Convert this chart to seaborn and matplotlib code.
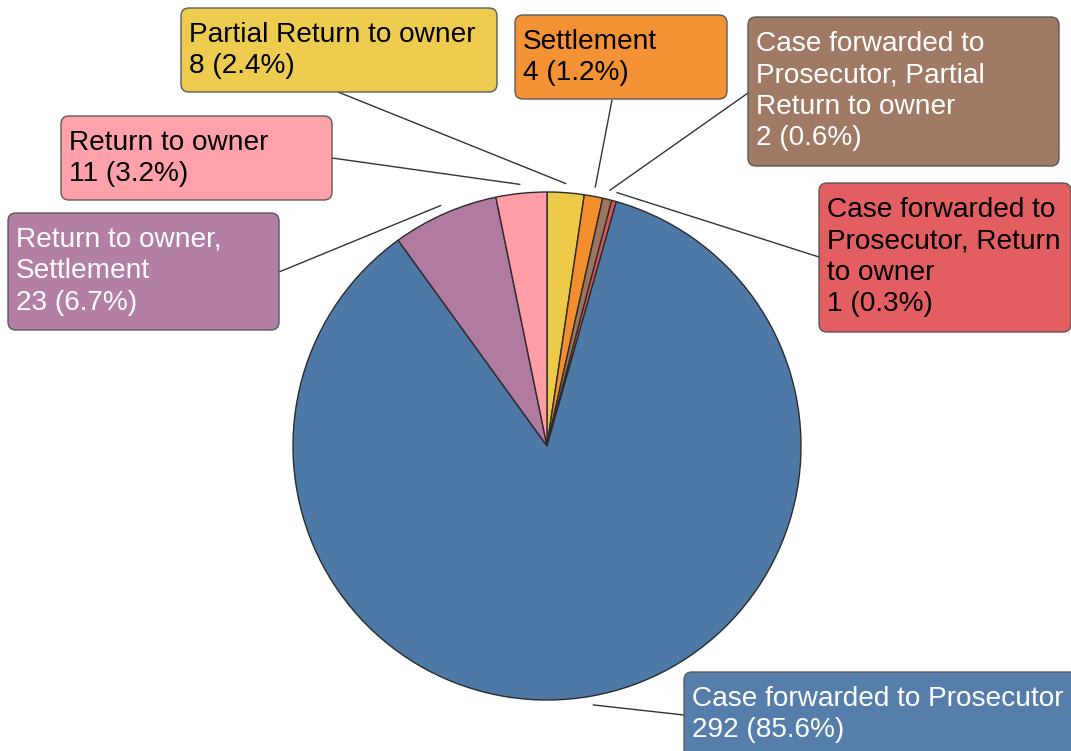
import matplotlib
matplotlib.use("Agg")
import matplotlib.pyplot as plt
import seaborn as sns
import numpy as np
from matplotlib.patches import FancyBboxPatch

# ---- data (clockwise from 12 o'clock) ----
categories = [
    "Partial Return to owner",
    "Settlement",
    "Case forwarded to\nProsecutor, Partial\nReturn to owner",
    "Case forwarded to\nProsecutor, Return\nto owner",
    "Case forwarded to Prosecutor",
    "Return to owner,\nSettlement",
    "Return to owner",
]
counts = [8, 4, 2, 1, 292, 23, 11]
percents = ["2.4", "1.2", "0.6", "0.3", "85.6", "6.7", "3.2"]
colors = ["#EDC948", "#F28E2B", "#9C755F", "#E15759", "#4E79A7", "#B07AA1", "#FF9DA7"]
text_colors = ["black", "black", "white", "black", "white", "white", "black"]

# ---- layout (pixels, y measured from top) ----
W, H = 1071, 751
CX, CY, R = 547, 446, 254
# box: left, top, width, height (same order as categories)
boxes = [
    (181, 8, 316, 84),
    (515, 15, 212, 84),
    (748, 17, 311, 149),
    (819, 183, 252, 149),
    (684, 672, 400, 90),
    (8, 213, 271, 117),
    (61, 116, 271, 84),
]
# leader line start on the box edge
line_starts = [
    (338, 92), (612, 100), (748, 93), (819, 257), (684, 715), (279, 272), (332, 158),
]

sns.set_theme(style="white")
plt.rcParams["font.family"] = ["Liberation Sans", "DejaVu Sans"]

fig = plt.figure(figsize=(W / 100, H / 100), dpi=100)
ax = fig.add_axes([0, 0, 1, 1])

wedges, _ = ax.pie(
    counts,
    colors=colors,
    startangle=90,
    counterclock=False,
    center=(CX, H - CY),
    radius=R,
    wedgeprops=dict(edgecolor="#2b2b2b", linewidth=1.0),
)
ax.set_xlim(0, W)
ax.set_ylim(0, H)
ax.set_aspect("equal")
ax.axis("off")

for i, w in enumerate(wedges):
    mid = np.deg2rad((w.theta1 + w.theta2) / 2)
    px = CX + R * 1.035 * np.cos(mid)
    py = (H - CY) + R * 1.035 * np.sin(mid)
    sx, sy = line_starts[i]
    ax.plot([sx, px], [H - sy, py], color="#333333", lw=1.0, solid_capstyle="butt")

    bx, by, bw, bh = boxes[i]
    patch = FancyBboxPatch(
        (bx, H - by - bh), bw, bh,
        boxstyle="round,pad=0,rounding_size=8",
        facecolor=colors[i], alpha=0.96,
        edgecolor="#555555", linewidth=1.0, zorder=3,
    )
    ax.add_patch(patch)
    ax.text(
        bx + 8, H - by - 14,
        f"{categories[i]}\n{counts[i]} ({percents[i]}%)",
        ha="left", va="top", fontsize=20.2, color=text_colors[i],
        linespacing=1.27, zorder=4,
    )

fig.savefig("out.png", dpi=100, facecolor="white")
